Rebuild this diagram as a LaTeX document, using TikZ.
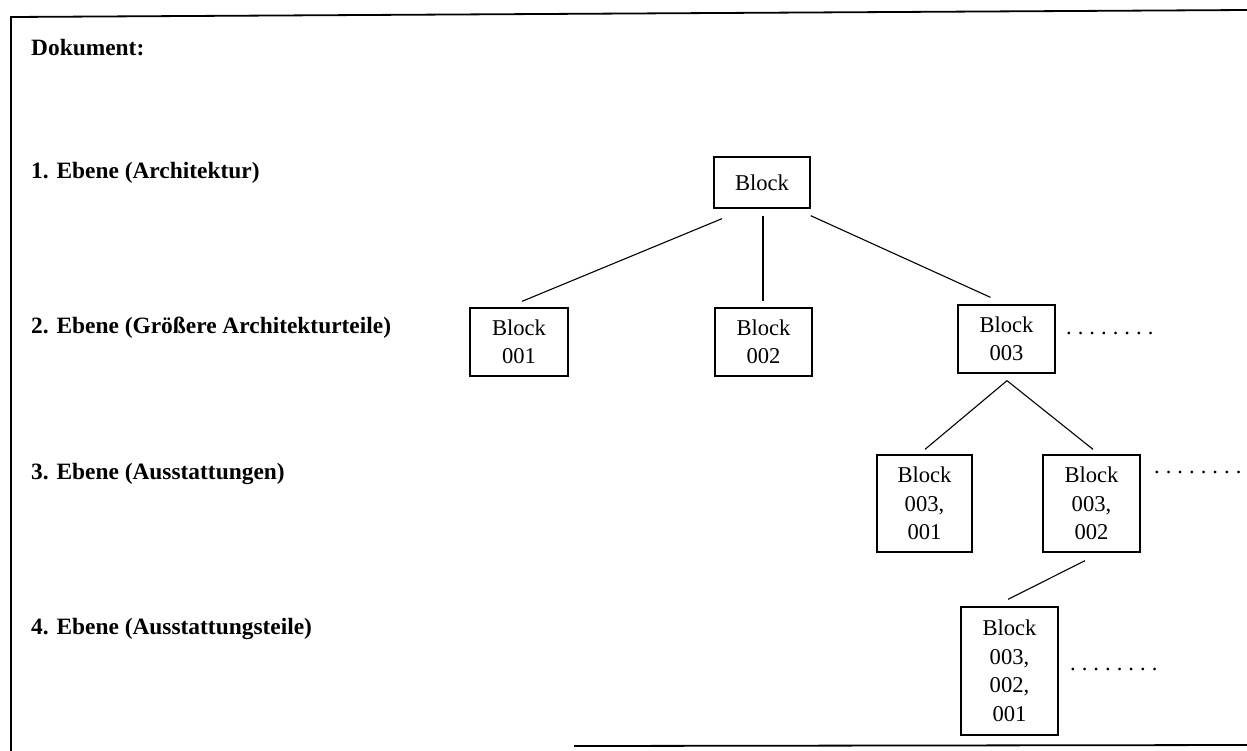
\documentclass[tikz,border=0pt]{standalone}
\usepackage{fontspec}
\setmainfont{Liberation Serif}
\usetikzlibrary{calc}
\newcommand\mydotrow{.\kern6pt.\kern6pt.\kern6pt.\kern6pt.\kern6pt.\kern6pt.\kern6pt.}
\begin{document}
\begin{tikzpicture}[x=1pt,y=-1pt,
  box/.style={draw, line width=1.3pt, inner sep=0pt, align=center,
    font=\fontsize{22.6}{28.5}\selectfont},
  lvl/.style={anchor=base west, inner sep=0pt, font=\fontsize{23.4}{28}\selectfont\bfseries},
  dots/.style={anchor=base west, inner sep=0pt, font=\fontsize{22.6}{28}\selectfont},
  conn/.style={line width=1.1pt},
  frame/.style={line width=1.8pt, line cap=rect}]
\useasboundingbox (0,0) rectangle (1247,750);
% frame
\coordinate (ftr) at (1247,10);
\coordinate (ftl) at (11,17);
\coordinate (fbl) at (11,750);
\coordinate (fbs) at (575,746);
\coordinate (fbe) at (1247,745);
\draw[frame] (ftr) -- (ftl) -- (fbl);
\draw[frame] (fbs) -- (fbe);
% level labels
\node[lvl] (doc) at (31,55) {Dokument:};
\node[lvl] (e1) at (31,178) {1. Ebene (Architektur)};
\node[lvl] (e2) at (31,333) {2. Ebene (Größere Architekturteile)};
\node[lvl] (e3) at (31,479) {3. Ebene (Ausstattungen)};
\node[lvl] (e4) at (31,634) {4. Ebene (Ausstattungsteile)};
% boxes
\node[box, minimum width=96pt, minimum height=51pt] (b) at (762,182.5) {Block};
\node[box, minimum width=98pt, minimum height=68pt] (n1) at (519,342) {Block\\001};
\node[box, minimum width=97pt, minimum height=68pt] (n2) at (763.5,342) {Block\\002};
\node[box, minimum width=97pt, minimum height=68pt] (n3) at (1006.5,339) {Block\\003};
\node[box, minimum width=95pt, minimum height=97pt] (n31) at (924.5,503.5) {Block\\003,\\001};
\node[box, minimum width=97pt, minimum height=97pt] (n32) at (1091.5,503.5) {Block\\003,\\002};
\node[box, minimum width=97pt, minimum height=128pt] (n321) at (1009.5,671) {Block\\003,\\002,\\001};
% dots
\node[dots] (d3) at (1066,334) {\mydotrow};
\node[dots] (d32) at (1154,473) {\mydotrow};
\node[dots] (d321) at (1070,670) {\mydotrow};
% connectors
\draw[conn] ($(b.south)+(-40,10)$) -- ($(n1.north)+(3,-6)$);
\draw[conn] ($(b.south)+(1,7)$) -- ($(n2.north)+(-0.5,-6)$);
\draw[conn] ($(b.south east)+(0,7)$) -- ($(n3.north)+(-16,-7)$);
\draw[conn] ($(n3.south)+(0.5,7)$) -- ($(n31.north)+(0.5,-5)$);
\draw[conn] ($(n3.south)+(0.5,7)$) -- ($(n32.north)+(1.5,-5)$);
\draw[conn] ($(n32.south)+(-6.5,8)$) -- ($(n321.north)+(-1.5,-7)$);
\end{tikzpicture}
\end{document}
